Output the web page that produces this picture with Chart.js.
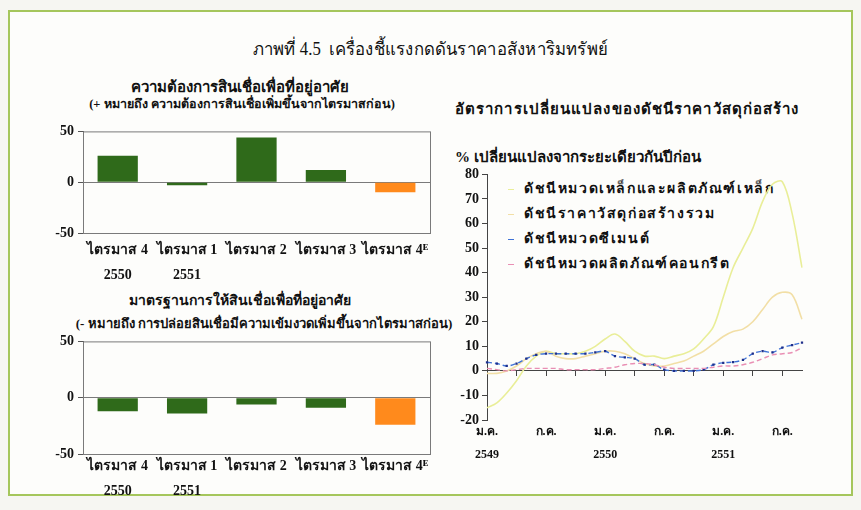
<!DOCTYPE html>
<html lang="th">
<head>
<meta charset="UTF-8">
<title>ภาพที่ 4.5</title>
<script src="https://cdn.jsdelivr.net/npm/chart.js"></script>
<style>
    body {
        margin: 0;
        width: 861px;
        height: 510px;
        background: #f6f6f2;
        font-family: "Liberation Serif", "DejaVu Serif", serif;
        position: relative;
        overflow: hidden;
    }
    #frame {
        position: absolute;
        left: 8px;
        top: 10px;
        width: 841px;
        height: 482px;
        border: 2px solid #a5c65c;
        background: #fdfdfb;
    }
    .txt {
        position: absolute;
        white-space: nowrap;
        color: #111;
    }
    .chartBox {
        position: absolute;
    }
    #legend .item {
        position: absolute;
        left: 0;
        white-space: nowrap;
        font-weight: bold;
        font-size: 14px;
        letter-spacing: 1.6px;
    }
    #legend .swatch {
        display: inline-block;
        width: 6px;
        height: 0;
        margin-right: 10px;
        vertical-align: middle;
    }
</style>
</head>
<body>
<div id="frame"></div>

<div class="txt" style="left:0;width:861px;top:34px;text-align:center;font-size:18px;transform:scaleX(0.93);">ภาพที่ 4.5&nbsp; เครื่องชี้แรงกดดันราคาอสังหาริมทรัพย์</div>

<div class="txt" style="left:40px;width:400px;top:75px;text-align:center;font-size:15px;font-weight:bold;">ความต้องการสินเชื่อเพื่อที่อยู่อาศัย</div>
<div class="txt" style="left:42px;width:400px;top:94px;text-align:center;font-size:12.5px;font-weight:bold;">(+ หมายถึง ความต้องการสินเชื่อเพิ่มขึ้นจากไตรมาสก่อน)</div>

<div class="txt" style="left:40px;width:400px;top:289px;text-align:center;font-size:14px;font-weight:bold;">มาตรฐานการให้สินเชื่อเพื่อที่อยู่อาศัย</div>
<div class="txt" style="left:54px;width:420px;top:313px;text-align:center;font-size:13px;font-weight:bold;">(- หมายถึง การปล่อยสินเชื่อมีความเข้มงวดเพิ่มขึ้นจากไตรมาสก่อน)</div>

<div class="txt" style="left:455px;top:97px;font-size:15px;font-weight:bold;letter-spacing:1.1px;">อัตราการเปลี่ยนแปลงของดัชนีราคาวัสดุก่อสร้าง</div>
<div class="txt" style="left:455px;top:145px;font-size:15px;font-weight:bold;">% เปลี่ยนแปลงจากระยะเดียวกันปีก่อน</div>

<div id="legend" class="txt" style="left:508px;top:177px;"></div>

<div class="chartBox" style="left:40px;top:119px;width:400px;height:174px;"><canvas id="demandChart"></canvas></div>
<div class="chartBox" style="left:40px;top:329px;width:400px;height:185px;"><canvas id="standardChart"></canvas></div>
<div class="chartBox" style="left:440px;top:163px;width:372px;height:307px;"><canvas id="priceChart"></canvas></div>

<script>
    // quarterly survey results
    const quarterLabels = [['ไตรมาส 4', '2550'], ['ไตรมาส 1', '2551'], 'ไตรมาส 2', 'ไตรมาส 3', 'ไตรมาส 4ᴱ'];
    const demandValues = [26, -3, 44, 12, -10];
    const standardValues = [-12, -14, -6, -9, -24];
    const estimateIndex = 4;

    // monthly construction material price indices, % yoy, ม.ค. 2549 - ก.ย. 2551
    const thaiMonths = ['ม.ค.', 'ก.พ.', 'มี.ค.', 'เม.ย.', 'พ.ค.', 'มิ.ย.', 'ก.ค.', 'ส.ค.', 'ก.ย.', 'ต.ค.', 'พ.ย.', 'ธ.ค.'];
    const years = ['2549', '2550', '2551'];
    const monthCount = 33;
    const steelValues = [-15, -13, -9, -4, 2, 6, 8, 7, 7, 7, 8, 10, 13, 15, 12, 8, 6, 6, 5, 6, 7, 9, 13, 18, 30, 42, 50, 58, 69, 76, 77, 64, 42];
    const totalValues = [-1, -1, 0, 2, 5, 7, 8, 6, 5, 5, 6, 7, 8, 8, 7, 5, 3, 2, 2, 3, 4, 6, 8, 11, 14, 16, 17, 20, 25, 30, 32, 31, 21];
    const cementValues = [3.5, 3, 2, 3, 5, 6.5, 7, 7, 7, 7, 7, 7.5, 8, 6, 5.5, 5, 2.5, 2.5, 0.5, 0, 0, 0, 0.5, 2.5, 3.3, 3.6, 4.5, 7, 8, 7.5, 9.5, 10.5, 11.5];
    const concreteValues = [1, 0.5, 0, 0.5, 1, 1, 1, 1, 0.5, 0.5, 0.5, 0.5, 1, 1.5, 2.5, 3, 3, 2.5, 1.5, 1, 1, 1, 1, 1.5, 2, 2, 2.5, 3.5, 5, 6.5, 7, 7.5, 9.5];
    const seriesNames = ['ดัชนีหมวดเหล็กและผลิตภัณฑ์เหล็ก', 'ดัชนีราคาวัสดุก่อสร้างรวม', 'ดัชนีหมวดซีเมนต์', 'ดัชนีหมวดผลิตภัณฑ์คอนกรีต'];
    const seriesColors = ['#e9ee98', '#f2dfa6', '#3f72d6', '#e98fb4'];
    const seriesDash = [[], [], [5, 3], [5, 3]];
    const yTicks = [80, 70, 60, 50, 40, 30, 20, 10, 0, -10, -20];

    const monthLabels = [];
    for (let i = 0; i < monthCount; i++) {
        monthLabels.push(thaiMonths[i % 12] + ' ' + years[Math.floor(i / 12)]);
    }

    const GREEN = '#2f6a1a';
    const ORANGE = '#ff8a1c';
    const tickFont = { family: '"Liberation Serif", serif', size: 14, weight: 700 };

    // draws the grey box around the plot area
    const plotBox = {
        id: 'plotBox',
        beforeDatasetsDraw(chart) {
            const a = chart.chartArea;
            const ctx = chart.ctx;
            ctx.save();
            ctx.strokeStyle = '#7a7a7a';
            ctx.lineWidth = 1;
            ctx.strokeRect(a.left + 0.5, a.top + 0.5, a.right - a.left, a.bottom - a.top);
            ctx.restore();
        }
    };

    function barChart(id, values, labelPad) {
        return new Chart(document.getElementById(id), {
            type: 'bar',
            data: {
                labels: quarterLabels,
                datasets: [{
                    data: values,
                    backgroundColor: values.map((v, i) => i === estimateIndex ? ORANGE : GREEN),
                    categoryPercentage: 1,
                    barPercentage: 0.58
                }]
            },
            options: {
                responsive: true,
                maintainAspectRatio: false,
                animation: false,
                layout: { padding: { top: 0, right: 10 } },
                plugins: { legend: { display: false }, tooltip: { enabled: false } },
                scales: {
                    x: {
                        grid: { display: false, drawTicks: false },
                        border: { display: false },
                        ticks: { color: '#111', font: { ...tickFont, lineHeight: 1.8 }, maxRotation: 0, autoSkip: false, padding: labelPad },
                        afterFit: s => { s.height = 60; }
                    },
                    y: {
                        min: -50,
                        max: 50,
                        ticks: { stepSize: 50, color: '#111', font: tickFont, padding: 4 },
                        grid: {
                            color: c => c.tick.value === 0 ? '#7a7a7a' : 'transparent',
                            tickColor: '#555',
                            tickLength: 5
                        },
                        border: { color: '#555' },
                        afterFit: s => { s.width = 43; }
                    }
                }
            },
            plugins: [plotBox]
        });
    }

    barChart('demandChart', demandValues, 5);
    barChart('standardChart', standardValues, 0);

    const lineSets = [steelValues, totalValues, cementValues, concreteValues].map((vals, k) => ({
        label: seriesNames[k],
        data: vals,
        borderColor: seriesColors[k],
        borderWidth: k < 2 ? 1.6 : 1.4,
        borderDash: seriesDash[k],
        pointRadius: k === 2 ? 1.6 : 0,
        pointStyle: 'rect',
        pointBackgroundColor: '#1f2f8a',
        pointBorderWidth: 0,
        tension: 0.35,
        fill: false
    }));

    // axis labels: only ม.ค. and ก.ค., with year under ม.ค.
    function monthTick(i) {
        if (i % 12 === 0) return [thaiMonths[0], years[i / 12]];
        if (i % 12 === 6) return thaiMonths[6];
        return '';
    }

    new Chart(document.getElementById('priceChart'), {
        type: 'line',
        data: { labels: monthLabels, datasets: lineSets.slice().reverse() },
        options: {
            responsive: true,
            maintainAspectRatio: false,
            animation: false,
            layout: { padding: { top: 0, right: 10 } },
            plugins: { legend: { display: false }, tooltip: { enabled: false } },
            scales: {
                x: {
                    type: 'category',
                    position: { y: 0 },
                    offset: false,
                    ticks: { display: false, autoSkip: false },
                    grid: {
                        drawOnChartArea: false,
                        tickLength: 5,
                        tickColor: c => (c.index % 3 === 0 && c.index > 0) ? '#444' : 'transparent'
                    },
                    border: { color: '#444' },
                    afterFit: s => { s.height = 0; }
                },
                x2: {
                    type: 'category',
                    position: 'bottom',
                    offset: false,
                    grid: { display: false, drawTicks: false },
                    border: { display: false },
                    ticks: {
                        autoSkip: false,
                        maxRotation: 0,
                        color: '#111',
                        font: { ...tickFont, size: 12, lineHeight: 1.9 },
                        padding: 1,
                        callback: (v, i) => monthTick(i)
                    },
                    afterFit: s => { s.height = 50; }
                },
                y: {
                    min: -20,
                    max: 80,
                    afterBuildTicks: s => { s.ticks = yTicks.map(v => ({ value: v })); },
                    ticks: { color: '#111', font: tickFont, padding: 3 },
                    grid: { drawOnChartArea: false, tickLength: 5, tickColor: '#444' },
                    border: { color: '#444' },
                    afterFit: s => { s.width = 47; }
                }
            }
        }
    });

    // legend built from the series names and colours
    const legend = document.getElementById('legend');
    seriesNames.forEach((name, k) => {
        const item = document.createElement('div');
        item.className = 'item';
        item.style.top = (k * 25) + 'px';
        const sw = document.createElement('span');
        sw.className = 'swatch';
        sw.style.borderTop = '1px ' + (seriesDash[k].length ? 'dashed ' : 'solid ') + seriesColors[k];
        item.appendChild(sw);
        item.appendChild(document.createTextNode(name));
        legend.appendChild(item);
    });
</script>
</body>
</html>
